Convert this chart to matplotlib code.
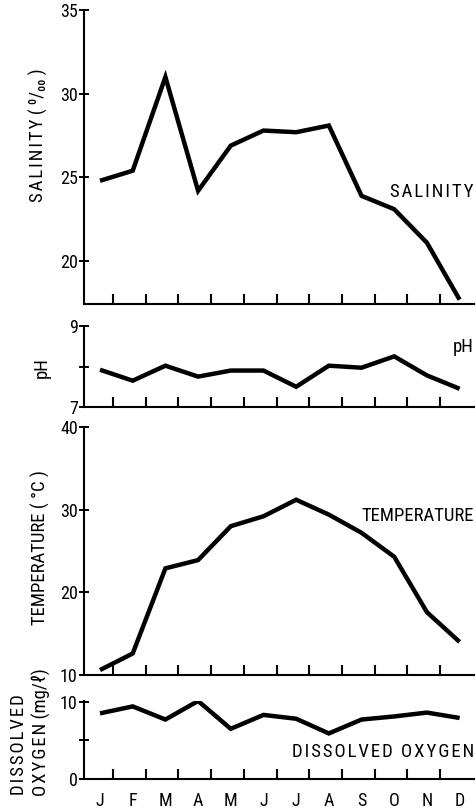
import matplotlib
matplotlib.use("Agg")
import matplotlib.pyplot as plt
from matplotlib import font_manager as fm

# ---------------- data ----------------
months = ["J", "F", "M", "A", "M", "J", "J", "A", "S", "O", "N", "D"]
salinity = [24.8, 25.4, 31.0, 24.2, 26.9, 27.8, 27.7, 28.1, 23.9, 23.1, 21.1, 17.7]
ph = [7.92, 7.65, 8.02, 7.75, 7.90, 7.90, 7.50, 8.02, 7.97, 8.25, 7.78, 7.45]
temperature = [10.6, 12.6, 22.9, 23.9, 28.0, 29.2, 31.2, 29.4, 27.2, 24.3, 17.6, 14.0]
dissolved_oxygen = [8.5, 9.4, 7.7, 10.1, 6.5, 8.3, 7.8, 5.9, 7.7, 8.1, 8.6, 7.9]

sal_ticks = [20, 25, 30, 35]
ph_ticks = [7, 8, 9]
ph_ticklabels = ["7", "", "9"]
temp_ticks = [10, 20, 30, 40]
do_ticks = [0, 5, 10]
do_ticklabels = ["0", "", "10"]

# ---------------- font choice ----------------
entries = fm.fontManager.ttflist
names = {f.name for f in entries}
font_kw = {}
for cand in ["Roboto Condensed", "Liberation Sans Narrow", "Open Sans Condensed",
             "Noto Sans Condensed"]:
    if cand in names:
        font_kw = {"family": cand}
        break
if not font_kw:
    if any(f.name == "DejaVu Sans" and str(f.stretch) in ("condensed", "semi-condensed")
           for f in entries):
        font_kw = {"family": "DejaVu Sans", "stretch": "condensed"}
    else:
        font_kw = {"family": "DejaVu Sans"}

plt.rcParams["font.family"] = [font_kw["family"], "DejaVu Sans"]
if "stretch" in font_kw:
    plt.rcParams["font.stretch"] = font_kw["stretch"]


def spaced(s, n=1):
    """Insert hair spaces between letters (letter-spaced lettering)."""
    sep = "\u200a" * n
    return sep.join(s)


W, H = 476, 811
fig = plt.figure(figsize=(W / 100, H / 100), dpi=100)

x = list(range(len(months)))
xl = (-0.49, 11.44)
left_px, right_px = 84, 474


def make_axes(top_px, bottom_px):
    return fig.add_axes([left_px / W, 1 - bottom_px / H,
                         (right_px - left_px) / W, (bottom_px - top_px) / H])


panels = [
    (10, 304, salinity, (17.44, 35), sal_ticks, [str(t) for t in sal_ticks]),
    (326, 407, ph, (7, 9), ph_ticks, ph_ticklabels),
    (427, 675, temperature, (10, 40), temp_ticks, [str(t) for t in temp_ticks]),
    (701, 779, dissolved_oxygen, (0, 10.1), do_ticks, do_ticklabels),
]

axes = []
for top, bot, vals, yl, yt, ytl in panels:
    ax = make_axes(top, bot)
    ax.plot(x, vals, color="black", lw=3.2, solid_joinstyle="miter",
            solid_capstyle="butt")
    ax.set_xlim(*xl)
    ax.set_ylim(*yl)
    for s in ("top", "right"):
        ax.spines[s].set_visible(False)
    for s in ("left", "bottom"):
        ax.spines[s].set_linewidth(1.5)
    ax.set_yticks(yt)
    ax.set_yticklabels(ytl, fontsize=13)
    ax.tick_params(axis="y", direction="inout", length=7, width=1.4, pad=1)
    ax.set_xticks([i + 0.4 for i in range(11)])
    ax.set_xticklabels([])
    ax.tick_params(axis="x", which="major", direction="in", length=7, width=1.5)
    axes.append(ax)

# month labels on the bottom panel
axb = axes[-1]
axb.set_xticks(x, minor=True)
axb.set_xticklabels(months, minor=True, fontsize=13)
axb.tick_params(axis="x", which="minor", length=0, pad=9)

# y-axis titles
fig.text(38 / W, 1 - 135 / H, spaced("SALINITY") + " ( ⁰/₀₀ )",
         rotation=90, ha="center", va="center", fontsize=13.5)
fig.text(42 / W, 1 - 368 / H, "pH", rotation=90, ha="center", va="center",
         fontsize=13.5)
fig.text(40 / W, 1 - 548 / H, "TEMPERATURE ( °C )", rotation=90, ha="center",
         va="center", fontsize=13.5)
fig.text(19 / W, 1 - 745 / H, spaced("DISSOLVED"), rotation=90, ha="center",
         va="center", fontsize=13.5)
fig.text(41 / W, 1 - 732 / H, spaced("OXYGEN") + " (mg/ℓ)", rotation=90,
         ha="center", va="center", fontsize=13.5)

# in-panel series names
fig.text(474 / W, 1 - 192 / H, spaced("SALINITY"), ha="right", va="center",
         fontsize=13.5)
fig.text(474 / W, 1 - 347 / H, "pH", ha="right", va="center", fontsize=13.5)
fig.text(474 / W, 1 - 516 / H, "TEMPERATURE", ha="right", va="center",
         fontsize=13.5)
fig.text(474 / W, 1 - 752 / H,
         spaced("DISSOLVED") + "\u200a \u200a" + spaced("OXYGEN"),
         ha="right", va="center", fontsize=13.5)

fig.savefig("out.png", dpi=100)
